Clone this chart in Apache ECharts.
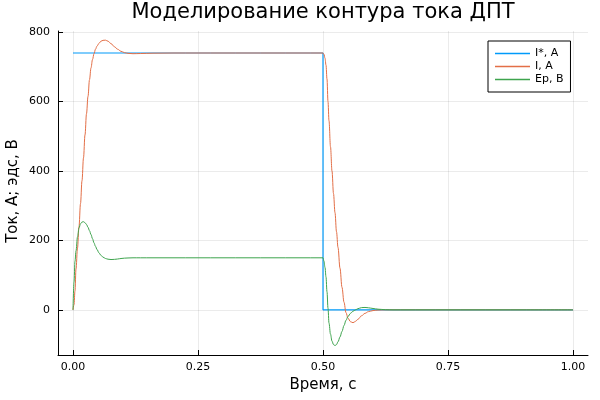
<!DOCTYPE html>
<html>
<head>
<meta charset="utf-8">
<script src="https://cdn.jsdelivr.net/npm/echarts@6/dist/echarts.min.js"></script>
<style>html,body{margin:0;padding:0;background:#fff}#chart{width:600px;height:400px}</style>
</head>
<body>
<div id="chart"></div>
<script>
// ---- data ----
const chartTitle = 'Моделирование контура тока ДПТ';
const xAxisName = 'Время, с';
const yAxisName = 'Ток, А; эдс, В';
const seriesNames = ['I*, А', 'I, А', 'Ер, В'];
const xTicks = [0, 0.25, 0.5, 0.75, 1.0];
const yTicks = [0, 200, 400, 600, 800];

// reference current I* (step)
const refTime = [0, 0.5, 0.5, 1.0];
const refValues = [740, 740, 0, 0];

// shared time samples for I and Ep
const time = [
  0, 0.002, 0.004, 0.006, 0.009, 0.012, 0.015, 0.018, 0.021, 0.024,
  0.027, 0.030, 0.033, 0.036, 0.039, 0.042, 0.045, 0.048, 0.052, 0.056,
  0.060, 0.065, 0.070, 0.076, 0.083, 0.089, 0.096, 0.103, 0.110, 0.120,
  0.135, 0.160, 0.200, 0.300, 0.400, 0.500,
  0.502, 0.504, 0.506, 0.508, 0.510, 0.512, 0.515, 0.518, 0.521, 0.524,
  0.527, 0.530, 0.534, 0.538, 0.542, 0.546, 0.550, 0.555, 0.560, 0.565,
  0.570, 0.577, 0.584, 0.591, 0.600, 0.610, 0.625, 0.640, 0.700, 0.800,
  0.900, 1.000
];
const currentValues = [
  0, 15, 55, 118, 178, 240, 306, 372, 438, 504,
  565, 615, 663, 697, 721, 738, 751, 760, 768, 774,
  776.5, 777, 774, 767, 758, 751, 745, 741, 739, 738,
  738.5, 739.5, 740, 740, 740, 740,
  736, 725, 705, 665, 600, 545, 470, 400, 335, 280,
  225, 180, 120, 65, 22, -8, -24, -34, -37, -33,
  -27, -17, -10, -5, -2, -0.5, 0, 0, 0, 0,
  0, 0
];
const emfValues = [
  0, 80, 140, 170, 210, 236, 248, 253, 254, 251,
  246, 238, 228, 217, 205, 193, 183, 174, 164, 157,
  152, 148, 146, 145, 145.5, 146.5, 148, 149, 149.5, 150,
  150, 150, 150, 150, 150, 150,
  140, 122, 95, 52, 5, -38, -70, -90, -100, -103,
  -100, -92, -78, -62, -45, -30, -19, -10, -4, 0,
  3.5, 6.5, 7, 6, 4, 2, 0.5, 0, 0, 0,
  0, 0
];

const colors = ['#009AFA', '#E36F47', '#3EA44E'];
const FONT = 'DejaVu Sans';

const chart = echarts.init(document.getElementById('chart'), null, {renderer: 'canvas'});
const grid = 'rgba(0,0,0,0.08)';

const option = {
  animation: false,
  backgroundColor: '#fff',
  textStyle: {fontFamily: FONT},
  grid: [
    {left: 58, right: 12, top: 31, bottom: 45},
    {left: 73, right: 27, top: 31, bottom: 45},
    {left: 58, right: 12, top: 32, bottom: 90}
  ],
  xAxis: [
    {gridIndex: 0, type: 'value', min: -0.03, max: 1.03,
     axisLine: {show: true, onZero: false, lineStyle: {color: '#000', width: 1}},
     axisTick: {show: false}, axisLabel: {show: false}, splitLine: {show: false}},
    {gridIndex: 1, type: 'value', min: xTicks[0], max: xTicks[xTicks.length - 1], interval: 0.25,
     axisLine: {show: false, onZero: false},
     axisTick: {show: true, inside: true, length: 5, lineStyle: {color: '#000'}},
     axisLabel: {color: '#000', fontSize: 11, margin: 7, fontFamily: FONT,
                 formatter: v => v.toFixed(2)},
     splitLine: {show: true, lineStyle: {color: grid, width: 1}}},
    {gridIndex: 2, type: 'value', min: 0, max: 1, show: false}
  ],
  yAxis: [
    {gridIndex: 0, type: 'value', min: -130, max: 803.4,
     axisLine: {show: true, onZero: false, lineStyle: {color: '#000', width: 1}},
     axisTick: {show: false}, axisLabel: {show: false}, splitLine: {show: false}},
    {gridIndex: 1, type: 'value', min: 0, max: 1, show: false},
    {gridIndex: 2, type: 'value', min: yTicks[0], max: yTicks[yTicks.length - 1], interval: 200,
     axisLine: {show: false, onZero: false},
     axisTick: {show: true, inside: true, length: 5, lineStyle: {color: '#000'}},
     axisLabel: {color: '#000', fontSize: 11, margin: 8, fontFamily: FONT},
     splitLine: {show: true, lineStyle: {color: grid, width: 1}}}
  ],
  legend: {
    data: seriesNames,
    orient: 'vertical',
    left: 488, top: 41,
    icon: 'rect',
    itemWidth: 35, itemHeight: 1.5, itemGap: 0,
    padding: [6, 7, 6, 7],
    borderColor: '#000', borderWidth: 1,
    backgroundColor: '#fff',
    textStyle: {fontSize: 11, color: '#000', lineHeight: 13, fontFamily: FONT}
  },
  series: [
    {name: seriesNames[0], type: 'line', xAxisIndex: 0, yAxisIndex: 0,
     data: refTime.map((t, i) => [t, refValues[i]]),
     showSymbol: false, symbol: 'none', color: colors[0],
     lineStyle: {width: 1.2, color: colors[0]}},
    {name: seriesNames[1], type: 'line', xAxisIndex: 0, yAxisIndex: 0,
     data: time.map((t, i) => [t, currentValues[i]]),
     showSymbol: false, symbol: 'none', smooth: 0.35, smoothMonotone: 'x', color: colors[1],
     lineStyle: {width: 1, color: colors[1]}},
    {name: seriesNames[2], type: 'line', xAxisIndex: 0, yAxisIndex: 0,
     data: time.map((t, i) => [t, emfValues[i]]),
     showSymbol: false, symbol: 'none', smooth: 0.35, smoothMonotone: 'x', color: colors[2],
     lineStyle: {width: 1, color: colors[2]}}
  ],
  graphic: [
    {type: 'text', x: 323, y: 13, style: {text: chartTitle, fontSize: 21, fontFamily: FONT,
      fill: '#000', align: 'center', verticalAlign: 'middle'}},
    {type: 'text', x: 323, y: 385, style: {text: xAxisName, fontSize: 15, fontFamily: FONT,
      fill: '#000', align: 'center', verticalAlign: 'middle'}},
    {type: 'text', x: 13, y: 191, rotation: Math.PI / 2, style: {text: yAxisName, fontSize: 15,
      fontFamily: FONT, fill: '#000', align: 'center', verticalAlign: 'middle'}}
  ]
};
chart.setOption(option);
</script>
</body>
</html>
